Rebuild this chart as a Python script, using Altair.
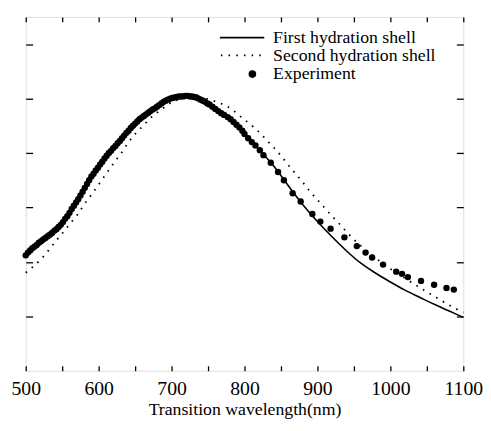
import altair as alt
import pandas as pd

# First hydration shell (solid)
first_x = [500, 520, 540, 560, 580, 600, 620, 640, 660, 680, 700, 720, 740, 760, 780, 800,
           820, 840, 860, 880, 900, 920, 940, 960, 980, 1000, 1020, 1040, 1060, 1080, 1100]
first_y = [2.12, 2.38, 2.59, 2.90, 3.33, 3.74, 4.09, 4.40, 4.66, 4.85, 4.99, 5.05, 4.99, 4.83, 4.63, 4.36,
           4.06, 3.76, 3.40, 3.05, 2.74, 2.46, 2.20, 1.97, 1.79, 1.63, 1.48, 1.35, 1.22, 1.10, 0.98]

# Second hydration shell (dotted)
second_x = [500, 510, 521, 530, 540, 550, 560, 571, 581, 591, 601, 611, 621, 631, 640, 650, 661, 671,
            681, 691, 701, 712, 722, 733, 745, 755, 762, 771, 782, 791, 802, 812, 821, 830, 840, 850,
            860, 870, 880, 890, 900, 910, 920, 930, 940, 950, 960, 971, 981, 990, 1000, 1020, 1040,
            1060, 1080, 1100]
second_y = [1.80, 1.91, 2.05, 2.19, 2.36, 2.52, 2.69, 2.87, 3.07, 3.25, 3.44, 3.63, 3.82, 4.00, 4.18,
            4.35, 4.50, 4.64, 4.75, 4.85, 4.94, 4.99, 5.02, 5.03, 5.01, 4.97, 4.94, 4.89, 4.81, 4.71,
            4.59, 4.48, 4.37, 4.24, 4.10, 3.95, 3.78, 3.62, 3.46, 3.29, 3.14, 2.99, 2.84, 2.70, 2.55,
            2.41, 2.29, 2.17, 2.06, 1.96, 1.87, 1.70, 1.53, 1.37, 1.21, 1.07]

# Experiment (points)
exp_x = [500, 503, 506, 509, 512, 515, 518, 521, 524, 527, 530, 533, 536, 539, 542, 545, 548, 551,
         554, 557, 560, 563, 566, 569, 572, 575, 578, 581, 584, 587, 590, 593, 596, 599, 602, 605,
         608, 611, 614, 617, 620, 623, 626, 629, 632, 635, 638, 641, 644, 647, 650, 653, 656, 659,
         662, 665, 668, 671, 674, 677, 680, 683, 686, 689, 692, 695, 698, 701, 704, 707, 710, 713,
         716, 719, 722, 725, 728, 731, 734, 737, 740, 743, 746, 749, 752, 756, 760, 764, 768, 772,
         777, 781, 785, 789, 793, 797, 800, 805, 810, 815, 821, 826, 836, 846, 854, 866, 877, 893,
         904, 918, 937, 954, 966, 975, 990, 1008, 1016, 1024, 1042, 1060, 1077, 1087]
exp_y = [2.12, 2.17, 2.21, 2.25, 2.28, 2.31, 2.35, 2.38, 2.41, 2.44, 2.47, 2.50, 2.53, 2.57, 2.60,
         2.64, 2.68, 2.73, 2.79, 2.84, 2.90, 2.97, 3.03, 3.09, 3.15, 3.22, 3.29, 3.36, 3.43, 3.50,
         3.57, 3.62, 3.68, 3.73, 3.79, 3.84, 3.90, 3.95, 4.00, 4.04, 4.09, 4.13, 4.18, 4.22, 4.27,
         4.32, 4.37, 4.41, 4.46, 4.50, 4.54, 4.58, 4.62, 4.65, 4.68, 4.71, 4.74, 4.77, 4.80, 4.82,
         4.85, 4.88, 4.91, 4.94, 4.96, 4.98, 5.00, 5.01, 5.02, 5.03, 5.04, 5.04, 5.04, 5.05, 5.05,
         5.04, 5.04, 5.03, 5.02, 5.00, 4.98, 4.96, 4.94, 4.91, 4.89, 4.85, 4.81, 4.77, 4.73, 4.70,
         4.66, 4.62, 4.57, 4.52, 4.47, 4.41, 4.35, 4.27, 4.20, 4.14, 4.05, 3.96, 3.82, 3.65, 3.50,
         3.26, 3.11, 2.88, 2.74, 2.61, 2.45, 2.29, 2.17, 2.08, 1.95, 1.82, 1.78, 1.72, 1.65, 1.58,
         1.52, 1.49]

x_ticks = list(range(500, 1101, 50))
y_ticks = [1, 2, 3, 4, 5, 6]
legend_labels = ["First hydration shell", "Second hydration shell", "Experiment"]

FONT = "Liberation Serif, 'Times New Roman', Times, serif"
W, H = 444, 359

df_first = pd.DataFrame({"x": first_x, "y": first_y})
df_second = pd.DataFrame({"x": second_x, "y": second_y})
df_exp = pd.DataFrame({"x": exp_x, "y": exp_y})

xscale = alt.Scale(domain=[500, 1100], nice=False, zero=False)
yscale = alt.Scale(domain=[0, 6.5], nice=False, zero=False)

x_bottom = alt.Axis(orient="bottom", values=x_ticks, tickSize=5, offset=-5, domain=False,
                    grid=False, tickColor="black", tickWidth=1.3,
                    labelExpr="datum.value % 100 == 0 ? toString(datum.value) : ''",
                    labelFont=FONT, labelFontSize=20, labelColor="black", labelPadding=8,
                    labelFlush=False, labelOverlap=False,
                    title="Transition wavelength(nm)", titleFont=FONT, titleFontSize=18,
                    titleFontWeight="normal", titleColor="black", titlePadding=2)
y_left = alt.Axis(orient="left", values=y_ticks, tickSize=7, offset=-7, domain=False,
                  grid=False, labels=False, title=None, tickColor="black", tickWidth=1.3)
x_top = alt.Axis(orient="top", values=x_ticks, tickSize=5, offset=-5, domain=False,
                 grid=False, labels=False, title=None, tickColor="black", tickWidth=1.3)
y_right = alt.Axis(orient="right", values=y_ticks, tickSize=7, offset=-7, domain=False,
                   grid=False, labels=False, title=None, tickColor="black", tickWidth=1.3)

first = alt.Chart(df_first).mark_line(color="black", strokeWidth=1.6, interpolate="monotone").encode(
    x=alt.X("x:Q", scale=xscale, axis=x_bottom),
    y=alt.Y("y:Q", scale=yscale, axis=y_left),
)
second = alt.Chart(df_second).mark_line(color="black", strokeWidth=1.8, strokeDash=[1.6, 6.2],
                                        interpolate="monotone").encode(
    x=alt.X("x:Q", scale=xscale, axis=x_top),
    y=alt.Y("y:Q", scale=yscale, axis=y_right),
)
points = alt.Chart(df_exp).mark_circle(color="black", size=42, opacity=1).encode(
    x=alt.X("x:Q", scale=xscale, axis=None),
    y=alt.Y("y:Q", scale=yscale, axis=None),
)

# Legend (drawn manually, positions in plot pixels)
leg_solid = alt.Chart(pd.DataFrame({"a": [0]})).mark_rule(color="black", strokeWidth=1.8).encode(
    x=alt.value(197), x2=alt.value(242), y=alt.value(21))
leg_dot = alt.Chart(pd.DataFrame({"a": [0]})).mark_rule(color="black", strokeWidth=1.8,
                                                       strokeDash=[1.6, 6.2]).encode(
    x=alt.value(198), x2=alt.value(242), y=alt.value(39))
leg_pt = alt.Chart(pd.DataFrame({"a": [0]})).mark_circle(color="black", size=60, opacity=1).encode(
    x=alt.value(230), y=alt.value(58))
leg_text = alt.Chart(pd.DataFrame({"t": legend_labels, "i": [0, 1, 2]})).mark_text(
    font=FONT, fontSize=18, align="left", baseline="middle", color="black").encode(
    x=alt.value(251),
    y=alt.Y("i:O", axis=None, scale=alt.Scale(range=[21, 58], padding=0, paddingOuter=0)),
    text="t:N")

chart = alt.layer(first, second, points, leg_solid, leg_dot, leg_pt, leg_text).resolve_axis(
    x="independent", y="independent"
).resolve_scale(y="independent").properties(
    width=W, height=H,
    autosize=alt.AutoSizeParams(type="none"),
    padding={"left": 18, "top": 6, "right": 20, "bottom": 50},
).configure_view(stroke="black", strokeWidth=1.6).configure(background="white")

chart.save("out.html", embed_options={"renderer": "svg", "actions": False})
